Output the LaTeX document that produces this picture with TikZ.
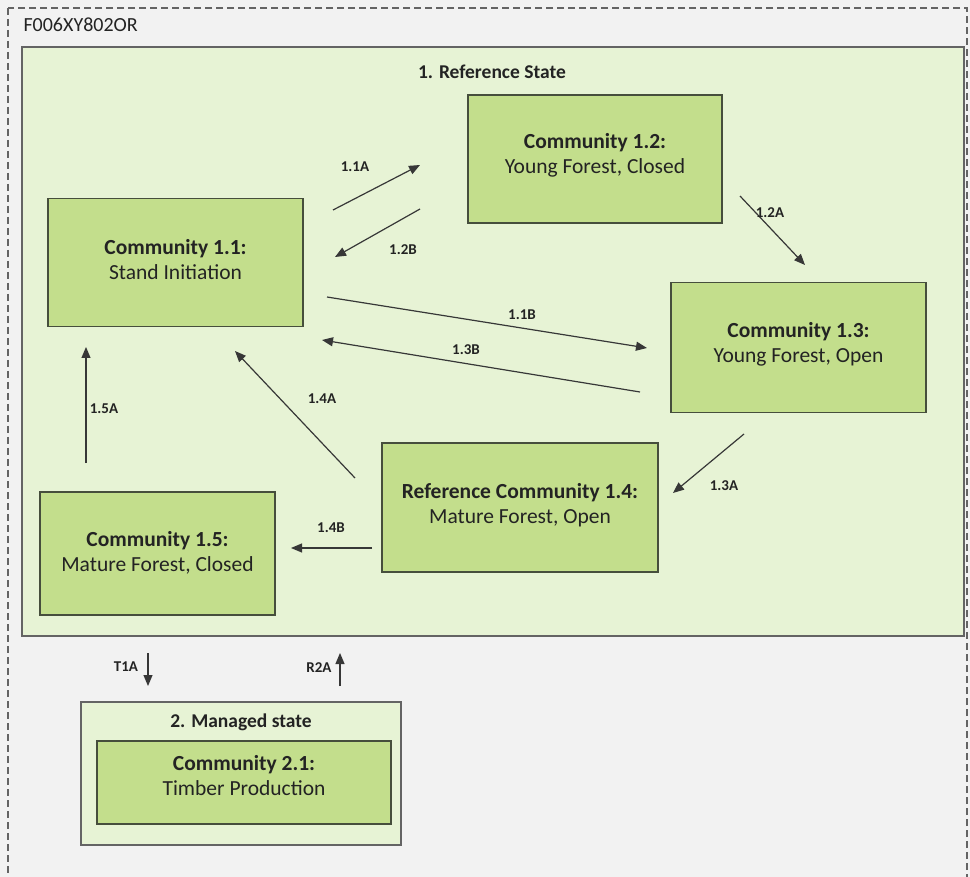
\documentclass[tikz,border=0pt]{standalone}
\usepackage{fontspec}
\setmainfont{Carlito}
\usetikzlibrary{arrows.meta}

\begin{document}
\begin{tikzpicture}[x=1pt, y=-1pt,
    comm/.style={draw=bordo, line width=1.3pt, fill=verde, inner sep=0pt},
    stato/.style={draw=grigio, line width=1.3pt, fill=verdechiaro, inner sep=0pt},
    testo/.style={align=center, text=scritta, font=\fontsize{21.5}{25}\selectfont},
    trans/.style={-{Triangle[length=11pt, width=9pt]}, line width=1.2pt, draw=freccia},
    etic/.style={text=scritta, font=\fontsize{15}{17}\selectfont\bfseries}]
        % Colori
        \definecolor{sfondo}{RGB}{242,242,242}
        \definecolor{verdechiaro}{RGB}{231,243,213}
        \definecolor{verde}{RGB}{195,222,140}
        \definecolor{bordo}{RGB}{70,78,60}
        \definecolor{grigio}{RGB}{100,100,100}
        \definecolor{scritta}{RGB}{35,35,35}
        \definecolor{freccia}{RGB}{55,55,55}
        \useasboundingbox (0,0) rectangle (970,877);
        \clip (0,0) rectangle (970,877);

        % Riquadro esterno tratteggiato
        \fill[sfondo] (0,0) rectangle (970,877);
        \draw[dash pattern=on 7pt off 4pt, line width=1.2pt, grigio] (8,8) rectangle (967,900);
        \node (codice) at (20,25) [anchor=west, text=scritta, font=\fontsize{20}{22}\selectfont]{F006XY802OR};

        % Stato 1
        \node (rif) at (493,341.5) [stato, minimum width=942pt, minimum height=589pt]{};
        \node (rift) at (492,72) [testo, font=\fontsize{19.5}{22}\selectfont\bfseries]{1. Reference State};

        % Comunita dello stato 1
        \node (c11) at (175.5,262.5) [comm, minimum width=255pt, minimum height=128pt]{};
        \node (c12) at (595,159) [comm, minimum width=254pt, minimum height=128pt]{};
        \node (c13) at (798.5,347.5) [comm, minimum width=255pt, minimum height=130pt]{};
        \node (c14) at (520,507.5) [comm, minimum width=276pt, minimum height=129pt]{};
        \node (c15) at (157.5,553.5) [comm, minimum width=235pt, minimum height=123pt]{};
        \node (c11t) at (175.5,259.5) [testo]{\textbf{Community 1.1:}\\Stand Initiation};
        \node (c12t) at (595,155.5) [testo]{\textbf{Community 1.2:}\\Young Forest, Closed};
        \node (c13t) at (798.5,344.5) [testo]{\textbf{Community 1.3:}\\Young Forest, Open};
        \node (c14t) at (520,505) [testo]{\textbf{Reference Community 1.4:}\\Mature Forest, Open};
        \node (c15t) at (157.5,552.5) [testo]{\textbf{Community 1.5:}\\Mature Forest, Closed};

        % Stato 2
        \node (gest) at (241,773.5) [stato, minimum width=320pt, minimum height=143pt]{};
        \node (gestt) at (241,722) [testo, font=\fontsize{19.5}{22}\selectfont\bfseries]{2. Managed state};
        \node (c21) at (244,782.5) [comm, minimum width=294pt, minimum height=83pt]{};
        \node (c21t) at (244,775.5) [testo]{\textbf{Community 2.1:}\\Timber Production};

        % Estremi delle frecce
        \coordinate (p11a) at (333,210);  \coordinate (q11a) at (420,165);
        \coordinate (p12b) at (420,209);  \coordinate (q12b) at (335,257);
        \coordinate (p12a) at (740,196);  \coordinate (q12a) at (805,265);
        \coordinate (p11b) at (327,297);  \coordinate (q11b) at (647,348);
        \coordinate (p13b) at (640,392);  \coordinate (q13b) at (322,340);
        \coordinate (p13a) at (744,434);  \coordinate (q13a) at (673,493);
        \coordinate (p14a) at (355,478);  \coordinate (q14a) at (235,351);
        \coordinate (p15a) at (86,463);   \coordinate (q15a) at (86,347);
        \coordinate (p14b) at (372,548);  \coordinate (q14b) at (291,548);
        \coordinate (pt1a) at (148,653);  \coordinate (qt1a) at (148,686);
        \coordinate (pr2a) at (340,686);  \coordinate (qr2a) at (340,653);

        % Transizioni
        \draw[trans] (p11a) -- (q11a);
        \draw[trans] (p12b) -- (q12b);
        \draw[trans] (p12a) -- (q12a);
        \draw[trans] (p11b) -- (q11b);
        \draw[trans] (p13b) -- (q13b);
        \draw[trans] (p13a) -- (q13a);
        \draw[trans] (p14a) -- (q14a);
        \draw[trans] (p15a) -- (q15a);
        \draw[trans] (p14b) -- (q14b);
        \draw[trans] (pt1a) -- (qt1a);
        \draw[trans] (pr2a) -- (qr2a);

        % Etichette
        \node (l11a) at (355,167) [etic]{1.1A};
        \node (l12b) at (403,250) [etic]{1.2B};
        \node (l12a) at (770,213) [etic]{1.2A};
        \node (l11b) at (522,315) [etic]{1.1B};
        \node (l13b) at (466,350) [etic]{1.3B};
        \node (l13a) at (724,486) [etic]{1.3A};
        \node (l14a) at (322,399) [etic]{1.4A};
        \node (l15a) at (104,409) [etic]{1.5A};
        \node (l14b) at (331,528) [etic]{1.4B};
        \node (lt1a) at (126,667) [etic]{T1A};
        \node (lr2a) at (319,668) [etic]{R2A};
\end{tikzpicture}
\end{document}
